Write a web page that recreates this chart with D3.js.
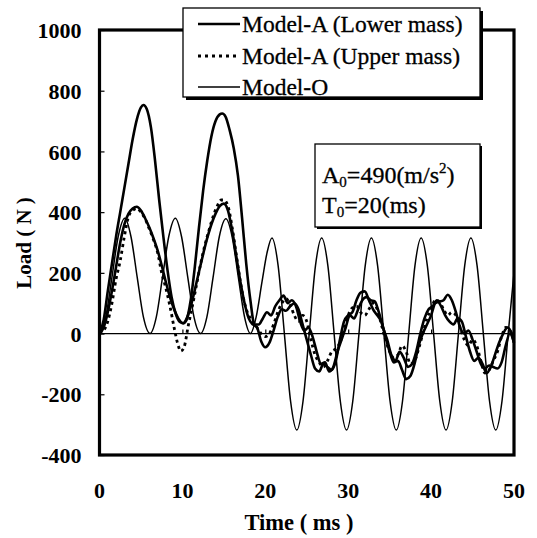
<!DOCTYPE html>
<html><head><meta charset="utf-8">
<script src="https://cdn.jsdelivr.net/npm/d3@7"></script>
<style>body{margin:0;background:#fff}svg text{font-family:"Liberation Serif","Times New Roman",serif;fill:#000}</style>
</head><body><svg id="c" width="537" height="538"></svg>
<script>
// Time (ms)
const xTicks = [0, 10, 20, 30, 40, 50];
const yTicks = [-400, -200, 0, 200, 400, 600, 800, 1000];
const legendLabels = ["Model-A (Lower mass)", "Model-A (Upper mass)", "Model-O"];

// Model-A (Lower mass): [time, load]
const lowerT = [0,0.5,1,1.5,2,2.5,3,3.5,4,4.5,5,5.5,6,6.5,7,7.5,8,8.5,9,9.5,10.1,10.6,11.2,11.8,12.4,13,13.5,14,14.5,15,15.5,16,16.5,17,17.5,18,18.5,19,19.5,20,20.5,21,21.5,22,22.5,23,23.5,24,24.5,25,25.5,26,26.5,27,27.5,28,28.5,29,29.5,30,30.5,31,31.5,32,32.5,33,33.5,34,34.5,35,35.5,36,36.5,37,37.5,38,38.5,39,39.5,40,40.5,41,41.5,42,42.5,43,43.5,44,44.5,45,45.5,46,46.5,47,47.5,48,48.5,49,49.5,50];
const lowerV = [0,20,70,140,220,300,360,395,412,418,405,380,350,315,275,225,170,120,80,50,34,55,110,180,250,315,360,395,420,428,405,340,255,170,100,50,30,20,-25,-45,-30,10,55,80,75,90,100,80,30,-20,-70,-115,-125,-100,-110,-120,-90,-20,40,60,70,110,135,139,110,80,60,40,-10,-60,-95,-90,-120,-150,-140,-100,-40,0,30,60,100,105,110,128,110,70,20,0,10,-20,-60,-100,-115,-105,-110,-115,-95,-40,0,-30];

// Model-A (Lower mass), second solid trace
const lower2T = [0,0.5,1,1.5,2,2.5,3,3.5,4,4.5,5,5.3,5.7,6.2,6.7,7.2,7.7,8.2,8.7,9.2,9.7,10.1,10.5,11,11.5,12,12.5,13,13.5,14,14.5,14.8,15.2,15.7,16.2,16.7,17.2,17.7,18.2,18.7,19.2,19.7,20.2,20.7,21.2,21.7,22.2,22.7,23.2,23.7,24.2,24.7,25.2,25.7,26.2,26.7,27.2,27.7,28.2,28.7,29.2,29.7,30.2,30.7,31.2,31.7,32.2,32.7,33.2,33.7,34.2,34.7,35.2,35.7,36.2,36.7,37.2,37.7,38.2,38.7,39.2,39.7,40.2,40.7,41.2,41.7,42.2,42.7,43.2,43.7,44.2,44.7,45.2,45.7,46.2,46.7,47.2,47.7,48.2,48.7,49.2,49.7,50];
const lower2V = [0,45,140,230,320,400,480,560,640,705,745,753,740,680,570,440,320,210,120,65,38,34,45,110,220,350,470,570,650,700,722,725,715,670,610,520,380,230,110,30,30,50,70,60,90,110,125,100,110,90,40,10,20,-10,-60,-100,-95,-125,-110,-60,-20,20,60,50,80,110,120,110,106,70,20,-20,-70,-90,-60,-80,-110,-100,-60,0,50,80,90,110,90,60,40,30,50,40,-10,-60,-90,-80,-100,-130,-110,-70,-30,0,20,0,-30];

// Model-A (Upper mass)
const upperT = [0,0.5,1,1.5,2,2.5,3,3.5,4,4.5,5,5.5,6,6.5,7,7.5,8,8.5,9,9.5,9.8,10.2,10.7,11.2,11.7,12.2,12.7,13.2,13.7,14.2,14.7,15,15.5,16,16.5,17,17.5,18,18.5,19,19.5,20,20.5,21,21.5,22,22.5,23,23.5,24,24.5,25,25.5,26,26.5,27,27.5,28,28.5,29,29.5,30,30.5,31,31.5,32,32.5,33,33.5,34,34.5,35,35.5,36,36.5,37,37.5,38,38.5,39,39.5,40,40.5,41,41.5,42,42.5,43,43.5,44,44.5,45,45.5,46,46.5,47,47.5,48,48.5,49,49.5,50];
const upperV = [0,10,40,100,180,240,320,385,405,412,400,378,345,310,268,200,150,90,20,-40,-58,-45,25,90,160,230,290,340,385,420,440,440,420,350,260,170,100,60,40,20,0,-10,0,30,70,100,115,95,60,40,60,40,-20,-70,-95,-110,-90,-60,-50,-30,10,60,85,90,70,60,80,100,80,30,-20,-60,-80,-70,-40,-60,-100,-90,-50,0,50,80,110,105,80,60,70,60,20,-20,-40,-20,-40,-90,-130,-120,-90,-60,-10,20,10,-10];

// Model-O
const modelOT = [0,0.75,1.5,2.25,3.05,3.8,4.55,5.3,6.1,6.85,7.6,8.35,9.15,9.9,10.65,11.4,12.2,12.95,13.7,14.45,15.25,16,16.75,17.5,18.2,18.9,19.6,20.2,20.8,21.55,22.3,23.05,23.8,24.55,25.3,26.05,26.8,27.55,28.3,29.05,29.8,30.55,31.3,32.05,32.8,33.55,34.3,35.05,35.8,36.55,37.3,38.05,38.8,39.55,40.3,41.05,41.8,42.55,43.3,44.05,44.8,45.55,46.3,47.05,47.8,48.55,49.3,50];
const modelOV = [0,54,185,319,380,319,185,54,0,54,185,319,380,319,185,54,0,54,185,319,378,319,185,54,0,55,170,265,315,223,0,-223,-318,-223,0,223,315,223,0,-223,-318,-223,0,223,315,223,0,-223,-318,-223,0,223,315,223,0,-223,-318,-223,0,223,315,223,0,-223,-318,-223,0,200];

const svg = d3.select("#c");
const x = d3.scaleLinear().domain([0, 50]).range([99.5, 514]);
const y = d3.scaleLinear().domain([-400, 1000]).range([455, 30]);

const zip = (T, V) => T.map((t, i) => [t, V[i]]);
const line = d3.line().x(d => x(d[0])).y(d => y(d[1])).curve(d3.curveMonotoneX);

// zero line
svg.append("line").attr("x1", x(0)).attr("x2", x(50)).attr("y1", y(0)).attr("y2", y(0))
  .attr("stroke", "#000").attr("stroke-width", 1.2);

const g = svg.append("g");
g.append("path").attr("d", line(zip(modelOT, modelOV))).attr("fill", "none").attr("stroke", "#000").attr("stroke-width", 1.5);
g.append("path").attr("d", line(zip(lower2T, lower2V))).attr("fill", "none").attr("stroke", "#000").attr("stroke-width", 2.6);
g.append("path").attr("d", line(zip(lowerT, lowerV))).attr("fill", "none").attr("stroke", "#000").attr("stroke-width", 2.6);
g.append("path").attr("d", line(zip(upperT, upperV))).attr("fill", "none").attr("stroke", "#000").attr("stroke-width", 2.8).attr("stroke-dasharray", "3,3.5");

// frame
svg.append("rect").attr("x", x(0)).attr("y", y(1000)).attr("width", x(50) - x(0)).attr("height", y(-400) - y(1000))
  .attr("fill", "none").attr("stroke", "#000").attr("stroke-width", 3.2);

// inner ticks on left axis
const yAxis = d3.axisLeft(y).tickValues(yTicks).tickSizeInner(-5).tickSizeOuter(0).tickPadding(18).tickFormat(d => String(d));
const ya = svg.append("g").attr("transform", `translate(${x(0)},0)`).call(yAxis);
ya.select(".domain").remove();
ya.selectAll(".tick line").attr("stroke-width", 1.2);
ya.selectAll("text").attr("font-size", 22).attr("font-weight", "bold").attr("fill", "#000").attr("dy", "0.35em");

// x ticks on zero line
const xAxis = d3.axisTop(x).tickValues(xTicks.slice(1, -1)).tickSizeInner(4).tickSizeOuter(0).tickFormat("");
const xa = svg.append("g").attr("transform", `translate(0,${y(0)})`).call(xAxis);
xa.select(".domain").remove();
xa.selectAll(".tick line").attr("stroke-width", 1.2);
// x tick labels
svg.append("g").selectAll("text").data(xTicks).join("text")
  .attr("x", d => x(d)).attr("y", 498).attr("text-anchor", "middle")
  .attr("font-size", 22).attr("font-weight", "bold").text(d => d);

// axis titles
svg.append("text").attr("x", 299).attr("y", 530).attr("text-anchor", "middle")
  .attr("font-size", 22.5).attr("font-weight", "bold").text("Time ( ms )");
svg.append("text").attr("transform", "translate(31,243) rotate(-90)").attr("text-anchor", "middle")
  .attr("font-size", 21).attr("font-weight", "bold").text("Load ( N )");

// legend
const lg = svg.append("g");
lg.append("rect").attr("x", 186).attr("y", 11).attr("width", 297).attr("height", 89).attr("fill", "#000");
lg.append("rect").attr("x", 183).attr("y", 8).attr("width", 297).attr("height", 89).attr("fill", "#fff").attr("stroke", "#000").attr("stroke-width", 1.3);
const rows = [24, 56, 87];
const styles = [{w: 2.6, dash: null}, {w: 2.8, dash: "3,4"}, {w: 1.6, dash: null}];
legendLabels.forEach((lab, i) => {
  const l = lg.append("line").attr("x1", 198).attr("x2", 240).attr("y1", rows[i]).attr("y2", rows[i])
    .attr("stroke", "#000").attr("stroke-width", styles[i].w);
  if (styles[i].dash) l.attr("stroke-dasharray", styles[i].dash);
  lg.append("text").attr("x", 242).attr("y", rows[i]).attr("dy", "0.35em").attr("font-size", 23.5)
    .attr("stroke", "#000").attr("stroke-width", 0.3).text(lab);
});

// info box
const ib = svg.append("g");
ib.append("rect").attr("x", 317).attr("y", 146).attr("width", 165).attr("height", 83).attr("fill", "#000");
ib.append("rect").attr("x", 315).attr("y", 144).attr("width", 165).attr("height", 83).attr("fill", "#fff").attr("stroke", "#000").attr("stroke-width", 1.3);
const t1 = ib.append("text").attr("x", 322).attr("y", 183).attr("font-size", 24).attr("stroke", "#000").attr("stroke-width", 0.3);
t1.append("tspan").text("A");
t1.append("tspan").attr("font-size", 15).attr("dy", 4).text("0");
t1.append("tspan").attr("dy", -4).text("=490(m/s");
t1.append("tspan").attr("font-size", 15).attr("dy", -10).text("2");
t1.append("tspan").attr("dy", 10).text(")");
const t2 = ib.append("text").attr("x", 322).attr("y", 213).attr("font-size", 24).attr("stroke", "#000").attr("stroke-width", 0.3);
t2.append("tspan").text("T");
t2.append("tspan").attr("font-size", 15).attr("dy", 4).text("0");
t2.append("tspan").attr("dy", -4).text("=20(ms)");
</script></body></html>
